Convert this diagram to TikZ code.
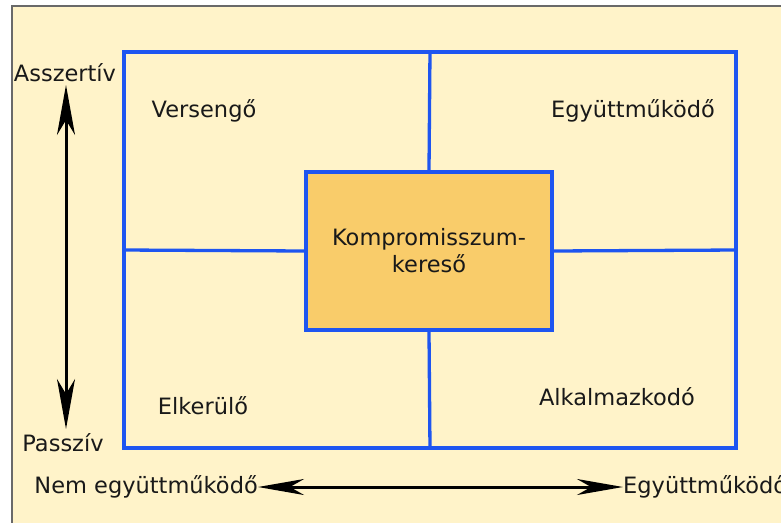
\documentclass[tikz,border=0pt]{standalone}
\usepackage{fontspec}
\setmainfont{DejaVu Sans}
\usepackage{xcolor}
\usepackage{tikz}
\usetikzlibrary{arrows.meta,positioning}
\definecolor{paperbeige}{RGB}{255, 243, 201}
\definecolor{framegray}{RGB}{105, 105, 105}
\definecolor{gridblue}{RGB}{30, 85, 240}
\definecolor{boxorange}{RGB}{249, 204, 106}
\definecolor{labelblack}{RGB}{25, 25, 25}

\begin{document}
\begin{tikzpicture}[x=1pt,y=-1pt,
        every node/.style={font=\fontsize{22.5}{27}\selectfont,text=labelblack},
        gridline/.style={draw=gridblue,line width=3.3pt},
        biarrow/.style={line width=3pt,{Stealth[length=50pt,width=18pt,inset=15pt]}-{Stealth[length=50pt,width=18pt,inset=15pt]}},
        hzarrow/.style={line width=3pt,{Stealth[length=46pt,width=16pt,inset=14pt]}-{Stealth[length=46pt,width=16pt,inset=14pt]}}]
        \useasboundingbox (0,0) rectangle (781,522);
        \fill[white] (0,0) rectangle (781,522);
        \draw[draw=framegray,fill=paperbeige,line width=2.5pt] (12,6) rectangle (800,540);
        % quadrant grid
        \node[gridline,minimum width=612pt,minimum height=396pt,inner sep=0pt] (grid) at (430,250) {};
        \node[gridline,fill=boxorange,minimum width=246pt,minimum height=158pt,inner sep=0pt,align=center] (komp) at (429,251) {Kompromisszum-\\kereső};
        \draw[gridline] (grid.north) -- (komp.north);
        \draw[gridline] (grid.south) -- (komp.south);
        \draw[gridline] (grid.west) -- (komp.west);
        \draw[gridline] (grid.east) -- (komp.east);
        % quadrant labels
        \node (verseng) at (204,111) {Versengő};
        \node (egyutt) at (633,111) {Együttműködő};
        \node (elkerul) at (203,406) {Elkerülő};
        \node (alkalmaz) at (617,397) {Alkalmazkodó};
        % axes
        \node (asszertiv) at (65,73) {Asszertív};
        \node (passziv) at (63,443) {Passzív};
        \coordinate (vtop) at (66,85);
        \coordinate (vbottom) at (66,429);
        \draw[biarrow] (vtop) -- (vbottom);
        \node[anchor=east,inner sep=0pt] (nemegy) at (258,487) {Nem együttműködő};
        \node[anchor=west,inner sep=0pt] (egyjobb) at (623,487) {Együttműködő};
        \draw[hzarrow] (nemegy.east) -- (egyjobb.west);
\end{tikzpicture}
\end{document}
